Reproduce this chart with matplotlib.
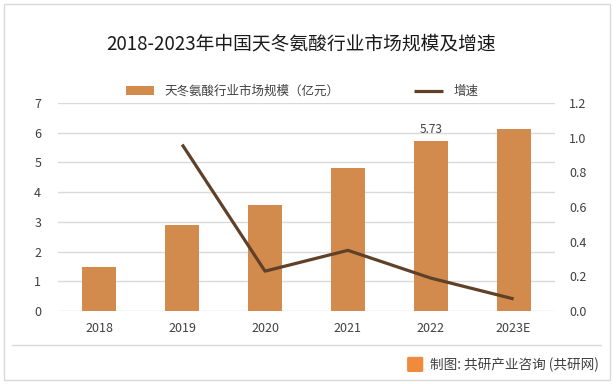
import matplotlib.pyplot as plt
import numpy as np
from matplotlib.patches import Rectangle, FancyBboxPatch

plt.rcParams['font.family'] = ['Noto Sans CJK SC', 'DejaVu Sans']

years = ['2018', '2019', '2020', '2021', '2022', '2023E']
market = [1.48, 2.9, 3.56, 4.81, 5.73, 6.12]
growth = [None, 0.96, 0.23, 0.35, 0.19, 0.07]

bar_color = '#D38B4D'
line_color = '#5E4128'

fig = plt.figure(figsize=(6.16, 3.84), dpi=100)
fig.patches.append(Rectangle((0.006, 0.01), 0.984, 0.98, transform=fig.transFigure,
                             fill=False, edgecolor='#D9D9D9', lw=1))

ax = fig.add_axes([0.094, 0.19, 0.807, 0.542])
x = np.arange(len(years))
bars = ax.bar(x, market, width=0.41, color=bar_color, zorder=2, label='天冬氨酸行业市场规模（亿元）')
ax.text(x[4], market[4] + 0.15, '5.73', ha='center', va='bottom', fontsize=8.5, color='#404040')

ax.set_xlim(-0.5, 5.5)
ax.set_ylim(0, 7)
ax.set_yticks(range(0, 8))
ax.set_xticks(x)
ax.set_xticklabels(years)
ax.yaxis.grid(True, color='#D9D9D9', lw=1, zorder=0)
ax.set_axisbelow(True)
for s in ax.spines.values():
    s.set_visible(False)
ax.tick_params(axis='both', length=0, labelsize=9, colors='#404040')
ax.tick_params(axis='x', pad=8)
ax.tick_params(axis='y', pad=12)

ax2 = ax.twinx()
gx = [i for i, g in enumerate(growth) if g is not None]
gy = [g for g in growth if g is not None]
ax2.plot(gx, gy, color=line_color, lw=2.3, label='增速', solid_capstyle='butt')
ax2.set_ylim(0, 1.2)
ax2.set_yticks(np.arange(0, 1.21, 0.2))
ax2.set_yticklabels(['%.1f' % v for v in np.arange(0, 1.21, 0.2)])
for s in ax2.spines.values():
    s.set_visible(False)
ax2.tick_params(axis='y', length=0, labelsize=9, colors='#404040', pad=10)

fig.text(0.488, 0.885, '2018-2023年中国天冬氨酸行业市场规模及增速', ha='center', va='center',
         fontsize=13.5, color='#1a1a1a')

h1, l1 = ax.get_legend_handles_labels()
h2, l2 = ax2.get_legend_handles_labels()
fig.legend(h1 + h2, l1 + l2, loc='center', bbox_to_anchor=(0.49, 0.762), ncol=2, frameon=False,
           fontsize=9, handlelength=2.3, columnspacing=6, labelcolor='#404040')

fig.lines.append(plt.Line2D([0.02, 0.975], [0.101, 0.101], transform=fig.transFigure,
                            color='#D9D9D9', lw=1))
fig.patches.append(FancyBboxPatch((0.664, 0.035), 0.02, 0.032, boxstyle='round,pad=0.002',
                                  transform=fig.transFigure, color='#F08A3C'))
fig.text(0.698, 0.051, '制图: 共研产业咨询 (共研网)', ha='left', va='center', fontsize=9.8,
         color='#404040', fontweight='medium')

fig.savefig('out.png', dpi=100)
